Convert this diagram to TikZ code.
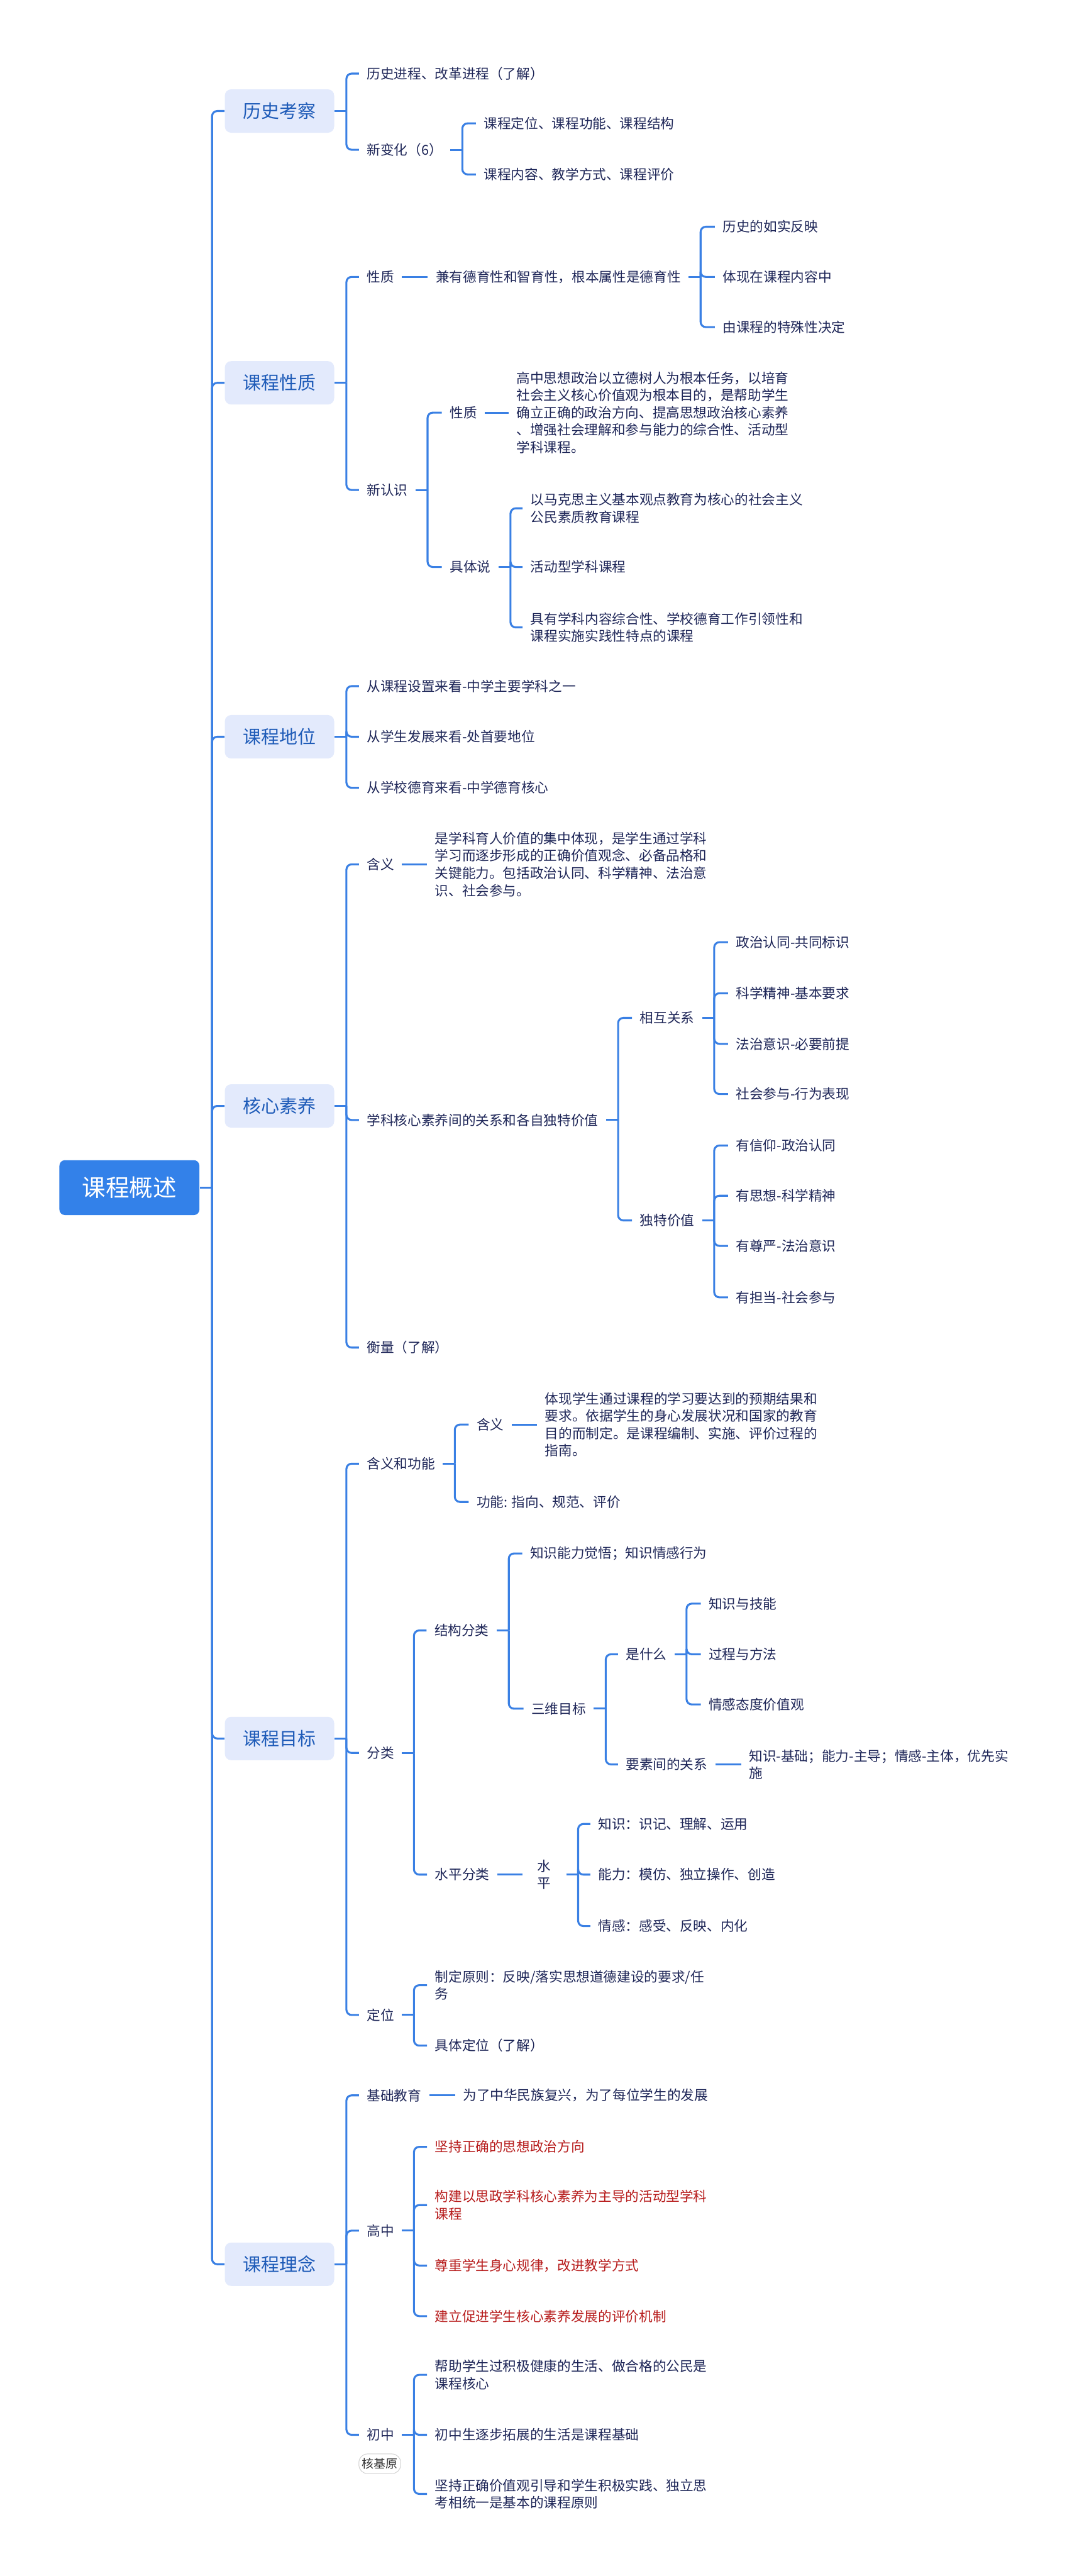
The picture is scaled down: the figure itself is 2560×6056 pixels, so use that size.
\documentclass[tikz,border=0pt]{standalone}
\usepackage{fontspec}
\setmainfont{Noto Sans CJK SC}
\usepackage{xcolor}
\usepackage{tikz}
\usetikzlibrary{positioning,calc}
\definecolor{rootBlue}{HTML}{3381E9}
\definecolor{topicFill}{HTML}{E3EAFC}
\definecolor{topicText}{HTML}{1E5BB8}
\definecolor{lineBlue}{HTML}{3A80E4}
\definecolor{inkNavy}{HTML}{1E2658}
\definecolor{noteRed}{HTML}{B71C1C}
\definecolor{tagGrey}{HTML}{CFCFCF}

\begin{document}
\begin{tikzpicture}[
    x=0.01cm, y=-0.01cm,
    rootNode/.style={anchor=west, fill=rootBlue, text=white, rounded corners=0.13cm, minimum width=3.29cm, minimum height=1.29cm, inner sep=0pt, font=\fontsize{15.8pt}{18pt}\selectfont},
    topicNode/.style={anchor=west, fill=topicFill, text=topicText, rounded corners=0.15cm, minimum width=2.57cm, minimum height=1.02cm, inner sep=0pt, font=\fontsize{12.2pt}{14pt}\selectfont},
    itemNode/.style={anchor=west, text=inkNavy, inner xsep=0.18cm, inner ysep=2pt, align=left, font=\fontsize{9.1pt}{11.6pt}\selectfont},
    noteNode/.style={itemNode, text=noteRed},
    tagNode/.style={draw=tagGrey, fill=white, text=black!80, rounded corners=0.2cm, minimum width=0.98cm, minimum height=0.46cm, inner sep=0pt, font=\fontsize{8pt}{9pt}\selectfont},
    linkLine/.style={draw=lineBlue, line width=1.3pt, rounded corners=3.5pt}
]

\fill[white] (0,0) rectangle (2560,6056);

\node[rootNode] (root) at (139,2792) {课程概述};

\node[topicNode] (c1) at (528,261) {历史考察};
\node[topicNode] (c2) at (528,900) {课程性质};
\node[topicNode] (c3) at (528,1732) {课程地位};
\node[topicNode] (c4) at (528,2600) {核心素养};
\node[topicNode] (c5) at (528,4087) {课程目标};
\node[topicNode] (c6) at (528,5323) {课程理念};

\node[itemNode] (c1a) at (844,173) {历史进程、改革进程（了解）};
\node[itemNode] (c1b) at (844,352) {新变化（6）};
\node[itemNode] (c1b1) at (1119,290) {课程定位、课程功能、课程结构};
\node[itemNode] (c1b2) at (1119,410) {课程内容、教学方式、课程评价};

\node[itemNode] (c2a) at (844,651) {性质};
\node[itemNode] (c2a1) at (1006,651) {兼有德育性和智育性，根本属性是德育性};
\node[itemNode] (c2a1a) at (1681,533) {历史的如实反映};
\node[itemNode] (c2a1b) at (1681,651) {体现在课程内容中};
\node[itemNode] (c2a1c) at (1681,769) {由课程的特殊性决定};
\node[itemNode] (c2b) at (844,1152) {新认识};
\node[itemNode] (c2b1) at (1039,970) {性质};
\node[itemNode] (c2b1a) at (1196,970) {高中思想政治以立德树人为根本任务，以培育\\社会主义核心价值观为根本目的，是帮助学生\\确立正确的政治方向、提高思想政治核心素养\\、增强社会理解和参与能力的综合性、活动型\\学科课程。};
\node[itemNode] (c2b2) at (1039,1333) {具体说};
\node[itemNode] (c2b2a) at (1229,1195) {以马克思主义基本观点教育为核心的社会主义\\公民素质教育课程};
\node[itemNode] (c2b2b) at (1229,1333) {活动型学科课程};
\node[itemNode] (c2b2c) at (1229,1475) {具有学科内容综合性、学校德育工作引领性和\\课程实施实践性特点的课程};

\node[itemNode] (c3a) at (844,1613) {从课程设置来看-中学主要学科之一};
\node[itemNode] (c3b) at (844,1732) {从学生发展来看-处首要地位};
\node[itemNode] (c3c) at (844,1852) {从学校德育来看-中学德育核心};

\node[itemNode] (c4a) at (844,2032) {含义};
\node[itemNode] (c4a1) at (1004,2032) {是学科育人价值的集中体现，是学生通过学科\\学习而逐步形成的正确价值观念、必备品格和\\关键能力。包括政治认同、科学精神、法治意\\识、社会参与。};
\node[itemNode] (c4b) at (844,2633) {学科核心素养间的关系和各自独特价值};
\node[itemNode] (c4b1) at (1486,2393) {相互关系};
\node[itemNode] (c4b1a) at (1712,2215) {政治认同-共同标识};
\node[itemNode] (c4b1b) at (1712,2335) {科学精神-基本要求};
\node[itemNode] (c4b1c) at (1712,2454) {法治意识-必要前提};
\node[itemNode] (c4b1d) at (1712,2572) {社会参与-行为表现};
\node[itemNode] (c4b2) at (1486,2869) {独特价值};
\node[itemNode] (c4b2a) at (1712,2693) {有信仰-政治认同};
\node[itemNode] (c4b2b) at (1712,2811) {有思想-科学精神};
\node[itemNode] (c4b2c) at (1712,2929) {有尊严-法治意识};
\node[itemNode] (c4b2d) at (1712,3050) {有担当-社会参与};
\node[itemNode] (c4c) at (844,3168) {衡量（了解）};

\node[itemNode] (c5a) at (844,3441) {含义和功能};
\node[itemNode] (c5a1) at (1102,3349) {含义};
\node[itemNode] (c5a1a) at (1263,3349) {体现学生通过课程的学习要达到的预期结果和\\要求。依据学生的身心发展状况和国家的教育\\目的而制定。是课程编制、实施、评价过程的\\指南。};
\node[itemNode] (c5a2) at (1102,3531) {功能: 指向、规范、评价};
\node[itemNode] (c5b) at (844,4121) {分类};
\node[itemNode] (c5b1) at (1003,3833) {结构分类};
\node[itemNode] (c5b1a) at (1228,3652) {知识能力觉悟；知识情感行为};
\node[itemNode] (c5b1b) at (1231,4017) {三维目标};
\node[itemNode] (c5b1b1) at (1453,3889) {是什么};
\node[itemNode] (c5b1b1a) at (1648,3770) {知识与技能};
\node[itemNode] (c5b1b1b) at (1648,3889) {过程与方法};
\node[itemNode] (c5b1b1c) at (1648,4007) {情感态度价值观};
\node[itemNode] (c5b1b2) at (1453,4148) {要素间的关系};
\node[itemNode] (c5b1b2a) at (1743,4148) {知识-基础；能力-主导；情感-主体，优先实\\施};
\node[itemNode] (c5b2) at (1004,4407) {水平分类};
\node[itemNode, inner xsep=0.35cm, align=center] (c5b2a) at (1228,4407) {水\\平};
\node[itemNode] (c5b2a1) at (1388,4288) {知识：识记、理解、运用};
\node[itemNode] (c5b2a2) at (1388,4407) {能力：模仿、独立操作、创造};
\node[itemNode] (c5b2a3) at (1388,4528) {情感：感受、反映、内化};
\node[itemNode] (c5c) at (844,4737) {定位};
\node[itemNode] (c5c1) at (1004,4667) {制定原则：反映/落实思想道德建设的要求/任\\务};
\node[itemNode] (c5c2) at (1004,4809) {具体定位（了解）};

\node[itemNode] (c6a) at (844,4926) {基础教育};
\node[itemNode] (c6a1) at (1070,4926) {为了中华民族复兴，为了每位学生的发展};
\node[itemNode] (c6b) at (844,5244) {高中};
\node[noteNode] (c6b1) at (1004,5047) {坚持正确的思想政治方向};
\node[noteNode] (c6b2) at (1004,5184) {构建以思政学科核心素养为主导的活动型学科\\课程};
\node[noteNode] (c6b3) at (1004,5326) {尊重学生身心规律，改进教学方式};
\node[noteNode] (c6b4) at (1004,5445) {建立促进学生核心素养发展的评价机制};
\node[itemNode] (c6c) at (844,5724) {初中};
\node[itemNode] (c6c1) at (1004,5583) {帮助学生过积极健康的生活、做合格的公民是\\课程核心};
\node[itemNode] (c6c2) at (1004,5724) {初中生逐步拓展的生活是课程基础};
\node[itemNode] (c6c3) at (1004,5863) {坚持正确价值观引导和学生积极实践、独立思\\考相统一是基本的课程原则};
\node[tagNode] (c6tag) at (893,5792) {核基原};

\draw[linkLine] (root.east) -- ++(29,0);
\draw[linkLine] (root.east) ++(29,0) |- (c1.west);
\draw[linkLine] (root.east) ++(29,0) |- (c2.west);
\draw[linkLine] (root.east) ++(29,0) |- (c3.west);
\draw[linkLine] (root.east) ++(29,0) |- (c4.west);
\draw[linkLine] (root.east) ++(29,0) |- (c5.west);
\draw[linkLine] (root.east) ++(29,0) |- (c6.west);

\draw[linkLine] (c1.east) -- ++(28,0);
\draw[linkLine] (c1.east) ++(28,0) |- (c1a.west);
\draw[linkLine] (c1.east) ++(28,0) |- (c1b.west);
\draw[linkLine] (c1b.east) -- ++(28,0);
\draw[linkLine] (c1b.east) ++(28,0) |- (c1b1.west);
\draw[linkLine] (c1b.east) ++(28,0) |- (c1b2.west);

\draw[linkLine] (c2.east) -- ++(28,0);
\draw[linkLine] (c2.east) ++(28,0) |- (c2a.west);
\draw[linkLine] (c2.east) ++(28,0) |- (c2b.west);
\draw[linkLine] (c2a) -- (c2a1);
\draw[linkLine] (c2a1.east) -- ++(28,0);
\draw[linkLine] (c2a1.east) ++(28,0) |- (c2a1a.west);
\draw[linkLine] (c2a1.east) ++(28,0) |- (c2a1b.west);
\draw[linkLine] (c2a1.east) ++(28,0) |- (c2a1c.west);
\draw[linkLine] (c2b.east) -- ++(28,0);
\draw[linkLine] (c2b.east) ++(28,0) |- (c2b1.west);
\draw[linkLine] (c2b.east) ++(28,0) |- (c2b2.west);
\draw[linkLine] (c2b1) -- (c2b1a);
\draw[linkLine] (c2b2.east) -- ++(28,0);
\draw[linkLine] (c2b2.east) ++(28,0) |- (c2b2a.west);
\draw[linkLine] (c2b2.east) ++(28,0) |- (c2b2b.west);
\draw[linkLine] (c2b2.east) ++(28,0) |- (c2b2c.west);

\draw[linkLine] (c3.east) -- ++(28,0);
\draw[linkLine] (c3.east) ++(28,0) |- (c3a.west);
\draw[linkLine] (c3.east) ++(28,0) |- (c3b.west);
\draw[linkLine] (c3.east) ++(28,0) |- (c3c.west);

\draw[linkLine] (c4.east) -- ++(28,0);
\draw[linkLine] (c4.east) ++(28,0) |- (c4a.west);
\draw[linkLine] (c4.east) ++(28,0) |- (c4b.west);
\draw[linkLine] (c4.east) ++(28,0) |- (c4c.west);
\draw[linkLine] (c4a) -- (c4a1);
\draw[linkLine] (c4b.east) -- ++(28,0);
\draw[linkLine] (c4b.east) ++(28,0) |- (c4b1.west);
\draw[linkLine] (c4b.east) ++(28,0) |- (c4b2.west);
\draw[linkLine] (c4b1.east) -- ++(28,0);
\draw[linkLine] (c4b1.east) ++(28,0) |- (c4b1a.west);
\draw[linkLine] (c4b1.east) ++(28,0) |- (c4b1b.west);
\draw[linkLine] (c4b1.east) ++(28,0) |- (c4b1c.west);
\draw[linkLine] (c4b1.east) ++(28,0) |- (c4b1d.west);
\draw[linkLine] (c4b2.east) -- ++(28,0);
\draw[linkLine] (c4b2.east) ++(28,0) |- (c4b2a.west);
\draw[linkLine] (c4b2.east) ++(28,0) |- (c4b2b.west);
\draw[linkLine] (c4b2.east) ++(28,0) |- (c4b2c.west);
\draw[linkLine] (c4b2.east) ++(28,0) |- (c4b2d.west);

\draw[linkLine] (c5.east) -- ++(28,0);
\draw[linkLine] (c5.east) ++(28,0) |- (c5a.west);
\draw[linkLine] (c5.east) ++(28,0) |- (c5b.west);
\draw[linkLine] (c5.east) ++(28,0) |- (c5c.west);
\draw[linkLine] (c5a.east) -- ++(28,0);
\draw[linkLine] (c5a.east) ++(28,0) |- (c5a1.west);
\draw[linkLine] (c5a.east) ++(28,0) |- (c5a2.west);
\draw[linkLine] (c5a1) -- (c5a1a);
\draw[linkLine] (c5b.east) -- ++(28,0);
\draw[linkLine] (c5b.east) ++(28,0) |- (c5b1.west);
\draw[linkLine] (c5b.east) ++(28,0) |- (c5b2.west);
\draw[linkLine] (c5b1.east) -- ++(28,0);
\draw[linkLine] (c5b1.east) ++(28,0) |- (c5b1a.west);
\draw[linkLine] (c5b1.east) ++(28,0) |- (c5b1b.west);
\draw[linkLine] (c5b1b.east) -- ++(28,0);
\draw[linkLine] (c5b1b.east) ++(28,0) |- (c5b1b1.west);
\draw[linkLine] (c5b1b.east) ++(28,0) |- (c5b1b2.west);
\draw[linkLine] (c5b1b1.east) -- ++(28,0);
\draw[linkLine] (c5b1b1.east) ++(28,0) |- (c5b1b1a.west);
\draw[linkLine] (c5b1b1.east) ++(28,0) |- (c5b1b1b.west);
\draw[linkLine] (c5b1b1.east) ++(28,0) |- (c5b1b1c.west);
\draw[linkLine] (c5b1b2) -- (c5b1b2a);
\draw[linkLine] (c5b2) -- (c5b2a);
\draw[linkLine] (c5b2a.east) -- ++(28,0);
\draw[linkLine] (c5b2a.east) ++(28,0) |- (c5b2a1.west);
\draw[linkLine] (c5b2a.east) ++(28,0) |- (c5b2a2.west);
\draw[linkLine] (c5b2a.east) ++(28,0) |- (c5b2a3.west);
\draw[linkLine] (c5c.east) -- ++(28,0);
\draw[linkLine] (c5c.east) ++(28,0) |- (c5c1.west);
\draw[linkLine] (c5c.east) ++(28,0) |- (c5c2.west);

\draw[linkLine] (c6.east) -- ++(28,0);
\draw[linkLine] (c6.east) ++(28,0) |- (c6a.west);
\draw[linkLine] (c6.east) ++(28,0) |- (c6b.west);
\draw[linkLine] (c6.east) ++(28,0) |- (c6c.west);
\draw[linkLine] (c6a) -- (c6a1);
\draw[linkLine] (c6b.east) -- ++(28,0);
\draw[linkLine] (c6b.east) ++(28,0) |- (c6b1.west);
\draw[linkLine] (c6b.east) ++(28,0) |- (c6b2.west);
\draw[linkLine] (c6b.east) ++(28,0) |- (c6b3.west);
\draw[linkLine] (c6b.east) ++(28,0) |- (c6b4.west);
\draw[linkLine] (c6c.east) -- ++(28,0);
\draw[linkLine] (c6c.east) ++(28,0) |- (c6c1.west);
\draw[linkLine] (c6c.east) ++(28,0) |- (c6c2.west);
\draw[linkLine] (c6c.east) ++(28,0) |- (c6c3.west);

\end{tikzpicture}
\end{document}
